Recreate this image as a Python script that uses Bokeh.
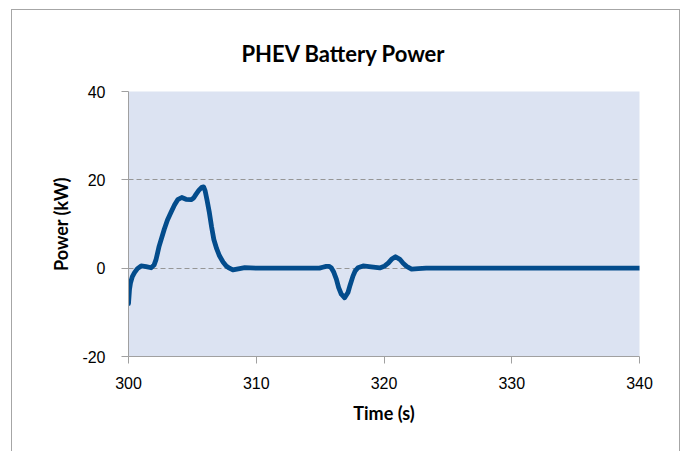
from bokeh.plotting import figure
from bokeh.models import FixedTicker, Range1d
from bokeh.embed import file_html
from bokeh.resources import INLINE

# ---- data ----
time_s = [300.0, 300.08, 300.16, 300.3, 300.47, 300.7, 300.99, 301.38, 301.77,
          302.0, 302.16, 302.4, 302.8, 303.05, 303.32, 303.6, 303.85, 304.17,
          304.5, 304.9, 305.1, 305.28, 305.5, 305.73, 305.88, 306.0, 306.15,
          306.33, 306.5, 306.68, 306.9, 307.12, 307.4, 307.65, 307.9, 308.17,
          308.7, 309.1, 310.0, 312.0, 314.3, 314.95, 315.2, 315.48, 315.7,
          315.87, 316.05, 316.27, 316.45, 316.66, 316.92, 317.18, 317.35,
          317.57, 317.75, 317.96, 318.36, 319.0, 319.67, 320.06, 320.35, 320.59,
          320.9, 321.24, 321.5, 321.77, 322.16, 322.68, 323.3, 325.0, 330.0,
          335.0, 340.0]
power_kw = [-8.0, -4.8, -3.3, -1.9, -1.0, -0.1, 0.5, 0.35, 0.1,
            0.7, 2.0, 5.0, 8.8, 10.9, 12.6, 14.3, 15.5, 16.0,
            15.6, 15.5, 15.9, 16.7, 17.6, 18.3, 18.4, 17.5, 15.4,
            12.6, 9.4, 6.5, 4.4, 2.8, 1.4, 0.5, 0.0, -0.4,
            -0.1, 0.1, 0.0, 0.0, 0.0, 0.0, 0.2, 0.4, 0.4,
            0.1, -0.8, -2.5, -4.4, -5.9, -6.7, -5.5, -3.8,
            -1.8, -0.6, 0.1, 0.5, 0.3, 0.05, 0.5, 1.2, 2.0,
            2.6, 2.0, 1.1, 0.4, -0.2, -0.1, 0.0, 0.0, 0.0,
            0.0, 0.0]
x_ticks = [300, 310, 320, 330, 340]
y_ticks = [-20, 0, 20, 40]
y_tick_labels = {-20: "-20", 0: "0", 20: "20", 40: "40"}
title_text = "PHEV Battery Power"
x_label = "Time (s)"
y_label = "Power (kW)"

TICK_FONT = "Liberation Sans"
BOLD_FONT = "Lato"

p = figure(width=669, height=442, output_backend="svg", toolbar_location=None,
           x_range=Range1d(x_ticks[0], x_ticks[-1]),
           y_range=Range1d(y_ticks[0], y_ticks[-1]),
           min_border_left=116, min_border_right=42,
           min_border_top=81, min_border_bottom=96,
           background_fill_color="#DCE3F2", border_fill_color="white",
           styles={"margin-left": "11px", "margin-top": "9px",
                   "border-left": "1px solid #A6A6A6",
                   "border-top": "1px solid #A6A6A6",
                   "border-right": "1px solid #A6A6A6"})
p.outline_line_color = None

# title
p.title.text = title_text
p.title.align = "left"
p.title.offset = 113
p.title.text_font = BOLD_FONT
p.title.text_font_style = "bold"
p.title.text_font_size = "22px"
p.title.text_color = "black"
p.title.standoff = 50

# axes
for ax in (p.xaxis[0], p.yaxis[0]):
    ax.axis_line_color = "#A0A0A0"
    ax.axis_line_width = 1
    ax.major_tick_line_color = "#A0A0A0"
    ax.major_tick_in = 0
    ax.major_tick_out = 7
    ax.minor_tick_line_color = None
    ax.major_label_text_font = TICK_FONT
    ax.major_label_text_font_size = "16px"
    ax.major_label_text_color = "black"
    ax.axis_label_text_font = BOLD_FONT
    ax.axis_label_text_font_style = "bold"
    ax.axis_label_text_font_size = "18px"
    ax.axis_label_text_color = "black"

p.xaxis.ticker = FixedTicker(ticks=x_ticks)
p.yaxis.ticker = FixedTicker(ticks=y_ticks)
p.yaxis.major_label_overrides = y_tick_labels
p.xaxis.axis_label = x_label
p.yaxis.axis_label = y_label
p.xaxis.major_label_standoff = 13
p.yaxis.major_label_standoff = 16
p.xaxis.axis_label_standoff = 10
p.yaxis.axis_label_standoff = 7

# grid
p.xgrid.grid_line_color = None
p.ygrid.ticker = FixedTicker(ticks=y_ticks)
p.ygrid.grid_line_color = "#969696"
p.ygrid.grid_line_dash = "5 3"
p.ygrid.grid_line_width = 1

p.line(time_s, power_kw, line_color="#034C8C", line_width=4.8,
       line_join="round", line_cap="round")

open("out.html", "w").write(file_html(p, INLINE))
